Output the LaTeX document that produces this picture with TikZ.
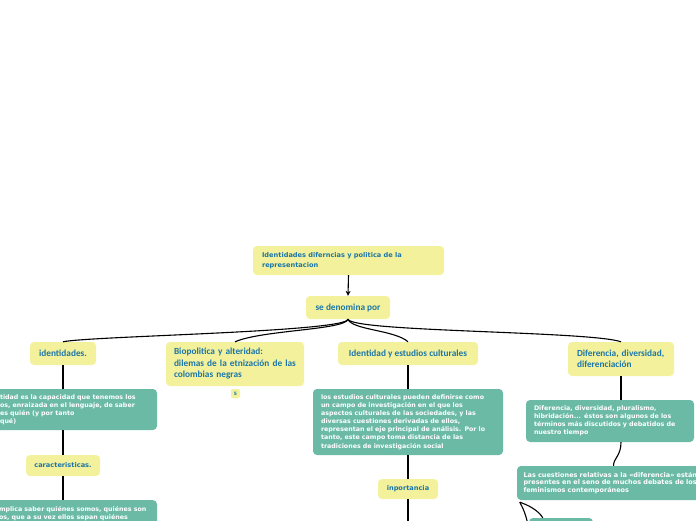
\documentclass[tikz,border=0pt]{standalone}
\usepackage{fontspec}
\setmainfont{DejaVu Sans}
\newfontfamily\carl{Carlito}
\usetikzlibrary{arrows.meta,calc}
\definecolor{yel}{RGB}{243,241,156}
\definecolor{grn}{RGB}{107,186,166}
\definecolor{tblue}{RGB}{28,118,168}
\newcommand\vfont{\fontsize{6.6}{9.5}\selectfont\bfseries}
\newcommand\gfont{\fontsize{6.3}{8.1}\selectfont\bfseries}
\newcommand\yfont{\carl\fontsize{9.3}{11.5}\selectfont\bfseries}
\tikzset{
  ybox/.style={fill=yel, rounded corners=4pt, text=tblue, inner sep=0pt, align=center, font=\yfont},
  gbox/.style={fill=grn, rounded corners=4pt, text=white, inner sep=0pt, align=left, font=\gfont},
  conn/.style={line width=1.1pt, black},
}
\begin{document}
\begin{tikzpicture}[x=1pt,y=-1pt]
\useasboundingbox (0,0) rectangle (696,520);
\clip (0,0) rectangle (696,520);
\fill[white] (0,0) rectangle (696,520);

% nodes
\node[ybox, font=\vfont, minimum width=191pt, minimum height=29pt, text width=173pt, inner xsep=9pt, align=left] (root) at (348.5,260.5) {Identidades diferncias y politica de la\\representacion};
\node[ybox, minimum width=84pt, minimum height=23pt] (sdp) at (348,307.5) {se denomina por};
\node[ybox, minimum width=66pt, minimum height=23pt] (ident) at (63,353.5) {identidades.};
\node[ybox, minimum width=138pt, minimum height=44pt, text width=126pt, inner xsep=6pt, align=left] (bio) at (235,364) {\hspace*{2pt}Biopolitica y alteridad:\\\hspace*{2pt}dilemas de la etnización de las\\\hspace*{2pt}colombias negras};
\node[ybox, font=\fontsize{4.5}{5}\selectfont\bfseries, minimum width=9pt, minimum height=9pt, rounded corners=2pt] (badge) at (235.5,393.5) {5};
\node[ybox, minimum width=140pt, minimum height=23pt] (iec) at (408,353.5) {Identidad y estudios culturales};
\node[ybox, minimum width=106pt, minimum height=34pt, text width=94pt, inner xsep=6pt, align=left] (dif) at (621,359) {\hspace*{3pt}Diferencia, diversidad,\\\hspace*{3pt}diferenciación};

\node[gbox, minimum width=165pt, minimum height=41pt, text width=149pt, inner xsep=8pt] (g1) at (74.5,409.5) {tidad es la capacidad que tenemos los\\os, enraizada en el lenguaje, de saber\\es quién (y por tanto\\ qué)};
\node[ybox, font=\vfont, minimum width=74pt, minimum height=21pt] (car) at (63,465.5) {caracteristicas.};
\node[gbox, anchor=north, minimum width=165pt, text width=151pt, inner xsep=7pt, inner ysep=6pt] (g2) at (74.5,500) {mplica saber quiénes somos, quiénes son\\os, que a su vez ellos sepan quiénes};

\node[gbox, minimum width=190pt, minimum height=66pt, text width=174pt, inner xsep=8pt] (g3) at (408,422) {los estudios culturales pueden definirse como\\un campo de investigación en el que los\\aspectos culturales de las sociedades, y las\\diversas cuestiones derivadas de ellos,\\representan el eje principal de análisis. Por lo\\tanto, este campo toma distancia de las\\tradiciones de investigación social};
\node[ybox, font=\vfont, minimum width=60pt, minimum height=20pt] (inp) at (408,489) {inportancia};

\node[gbox, minimum width=168pt, minimum height=42pt, text width=152pt, inner xsep=8pt] (g4) at (610,421) {Diferencia, diversidad, pluralismo,\\hibridación... éstos son algunos de los\\términos más discutidos y debatidos de\\nuestro tiempo};
\node[gbox, font=\fontsize{6.5}{7.2}\selectfont\bfseries, minimum width=193pt, minimum height=34pt, text width=180pt, inner xsep=6.5pt] (g5) at (613.5,483) {Las cuestiones relativas a la «diferencia» están\\presentes en el seno de muchos debates de los\\feminismos contemporáneos};
\node[gbox, minimum width=64pt, minimum height=22pt] (g6) at (561,529) {};

\coordinate (inpend) at (408,525);
\coordinate (g5end) at (528,525);

% connectors
\draw[conn, -{Stealth[length=5pt,width=5pt]}] (root.south) -- (sdp.north);
\draw[conn] (sdp.south) .. controls (346,332) and (90,336) .. (ident.north);
\draw[conn] (sdp.south) .. controls (345,330) and (262,330) .. (bio.north);
\draw[conn] (sdp.south) .. controls (352,330) and (395,330) .. (iec.north);
\draw[conn] (sdp.south) .. controls (352,332) and (590,331) .. (dif.north);

\draw[conn] (ident.south) -- (ident.south |- g1.north);
\draw[conn] (car.north |- g1.south) -- (car.north);
\draw[conn] (car.south) -- (car.south |- g2.north);

\draw[conn] (iec.south) -- (g3.north);
\draw[conn] (g3.south) -- (inp.north);
\draw[conn] (inp.south) -- (inpend);

\draw[conn] (dif.south) -- (dif.south |- g4.north);
\draw[conn] (dif.south |- g4.south) .. controls (621,456) and (613.5,458) .. (g5.north);
\draw[conn] ($(g5.south west)+(3,2)$) .. controls (528,505) and (538,510) .. ($(g6.north west)+(14,0)$);
\draw[conn] ($(g5.south west)+(3,2)$) .. controls (523,508) and (526,515) .. (g5end);
\end{tikzpicture}
\end{document}
